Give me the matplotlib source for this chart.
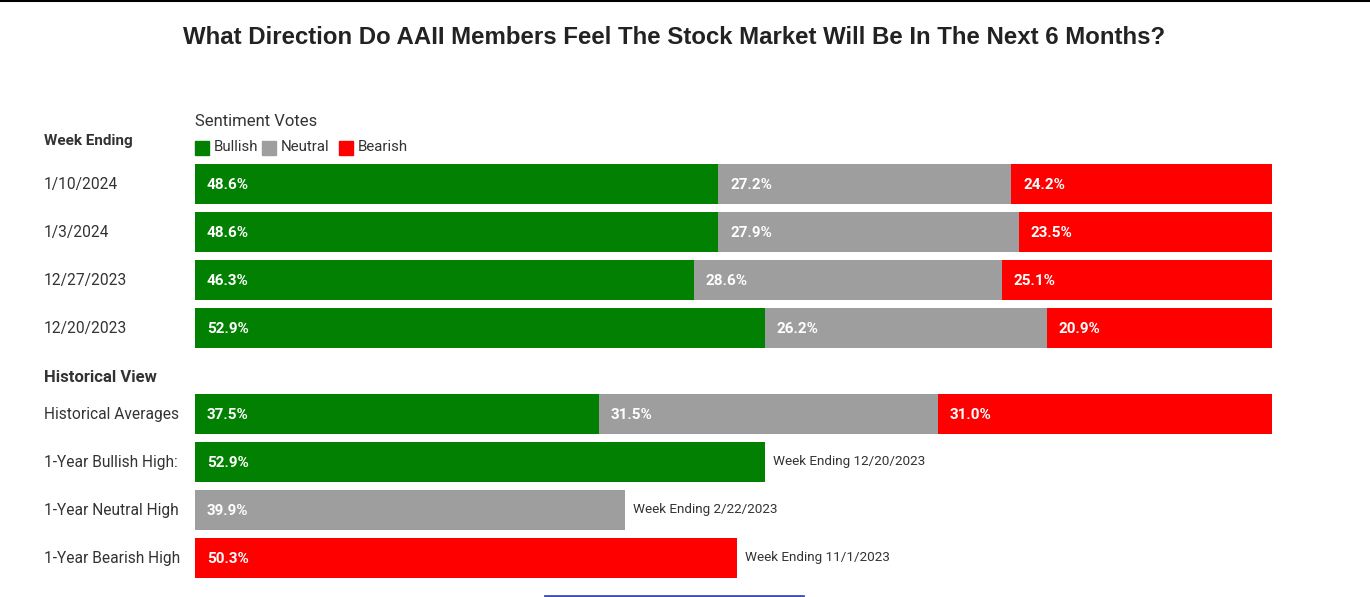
import matplotlib
matplotlib.use("Agg")
import matplotlib.pyplot as plt
from matplotlib.patches import Rectangle
from matplotlib.lines import Line2D

# ---- data ----
weeks = ["1/10/2024", "1/3/2024", "12/27/2023", "12/20/2023"]
bullish = [48.6, 48.6, 46.3, 52.9]
neutral = [27.2, 27.9, 28.6, 26.2]
bearish = [24.2, 23.5, 25.1, 20.9]

hist_avg_label = "Historical Averages"
hist_avg = [37.5, 31.5, 31.0]

high_labels = ["1-Year Bullish High:", "1-Year Neutral High", "1-Year Bearish High"]
high_values = [52.9, 39.9, 50.3]
high_dates = ["Week Ending 12/20/2023", "Week Ending 2/22/2023", "Week Ending 11/1/2023"]

series_names = ["Bullish", "Neutral", "Bearish"]
colors = ["#028002", "#9e9e9e", "#ff0000"]

W, H = 1370, 597
fig = plt.figure(figsize=(W / 100, H / 100), dpi=100)
fig.patch.set_facecolor("white")

FONT = "Roboto"
TXT = "#333333"

# axes for bars
ax_left, ax_right = 195, 1272
ax_top, ax_bot = 160, 582
ax = fig.add_axes([ax_left / W, 1 - ax_bot / H, (ax_right - ax_left) / W, (ax_bot - ax_top) / H])
ax.set_xlim(0, 100)
hist_off = 230 / 48
ax.set_ylim(3 + hist_off + 0.5, -0.5)
ax.axis("off")

bh = 40 / 48
ys_week = list(range(len(weeks)))
ys_hist = [hist_off + i for i in range(4)]

label_x = (44 - ax_left) / (ax_right - ax_left)
ytr = ax.get_yaxis_transform()
LBL = 11.2

def pct(v):
    return f"{v:.1f}%"

# weekly stacked bars
for i, y in enumerate(ys_week):
    vals = [bullish[i], neutral[i], bearish[i]]
    left = 0
    for v, c in zip(vals, colors):
        ax.barh(y, v, left=left, height=bh, color=c, edgecolor="none")
        ax.text(left + 1.1, y + 0.02, pct(v), color="white", fontsize=11, fontweight="bold",
                family=FONT, va="center", ha="left")
        left += v
    ax.text(label_x, y + 0.02, weeks[i], transform=ytr, fontsize=LBL, color=TXT,
            family=FONT, va="center", ha="left")

# historical averages
y = ys_hist[0]
left = 0
for v, c in zip(hist_avg, colors):
    ax.barh(y, v, left=left, height=bh, color=c, edgecolor="none")
    ax.text(left + 1.1, y + 0.02, pct(v), color="white", fontsize=11, fontweight="bold",
            family=FONT, va="center", ha="left")
    left += v
ax.text(label_x, y + 0.02, hist_avg_label, transform=ytr, fontsize=LBL, color=TXT,
        family=FONT, va="center", ha="left")

# 1-year highs
for j in range(3):
    y = ys_hist[j + 1]
    v = high_values[j]
    ax.barh(y, v, height=bh, color=colors[j], edgecolor="none")
    ax.text(1.1, y + 0.02, pct(v), color="white", fontsize=11, fontweight="bold",
            family=FONT, va="center", ha="left")
    ax.annotate(high_dates[j], xy=(v, y), xytext=(6, 0), textcoords="offset points",
                fontsize=9.7, color=TXT, family=FONT, va="center", ha="left")
    ax.text(label_x, y + 0.02, high_labels[j], transform=ytr, fontsize=LBL, color=TXT,
            family=FONT, va="center", ha="left")

# section headers
ax.text(label_x, -0.9, "Week Ending", transform=ytr, fontsize=11, fontweight="bold",
        color=TXT, family=FONT, va="center", ha="left")
ax.text(label_x, ys_hist[0] - 0.77, "Historical View", transform=ytr, fontsize=12,
        fontweight="bold", color=TXT, family=FONT, va="center", ha="left")

# title
fig.text(674 / W, 1 - 38 / H,
         "What Direction Do AAII Members Feel The Stock Market Will Be In The Next 6 Months?",
         ha="center", va="center", fontsize=17.3, fontweight="bold",
         family="Liberation Sans", color="#222222")

# legend title and entries
fig.text(195 / W, 1 - 121 / H, "Sentiment Votes", ha="left", va="center",
         fontsize=12, family=FONT, color=TXT)
sq_x = [195, 262, 339]
for name, c, sx in zip(series_names, colors, sq_x):
    fig.add_artist(Rectangle((sx / W, 1 - 155 / H), 14 / W, 14 / H, color=c,
                             transform=fig.transFigure))
    fig.text((sx + 19) / W, 1 - 147 / H, name, ha="left", va="center",
             fontsize=10.8, family=FONT, color=TXT)

# screenshot edge lines
fig.add_artist(Line2D([0, 1], [1 - 1 / H, 1 - 1 / H], color="black", lw=1.5,
                      transform=fig.transFigure))
fig.add_artist(Line2D([545 / W, 803 / W], [1 - 595.5 / H, 1 - 595.5 / H], color="#3f4fae",
                      lw=2, transform=fig.transFigure))

fig.savefig("out.png", dpi=100, facecolor="white")
